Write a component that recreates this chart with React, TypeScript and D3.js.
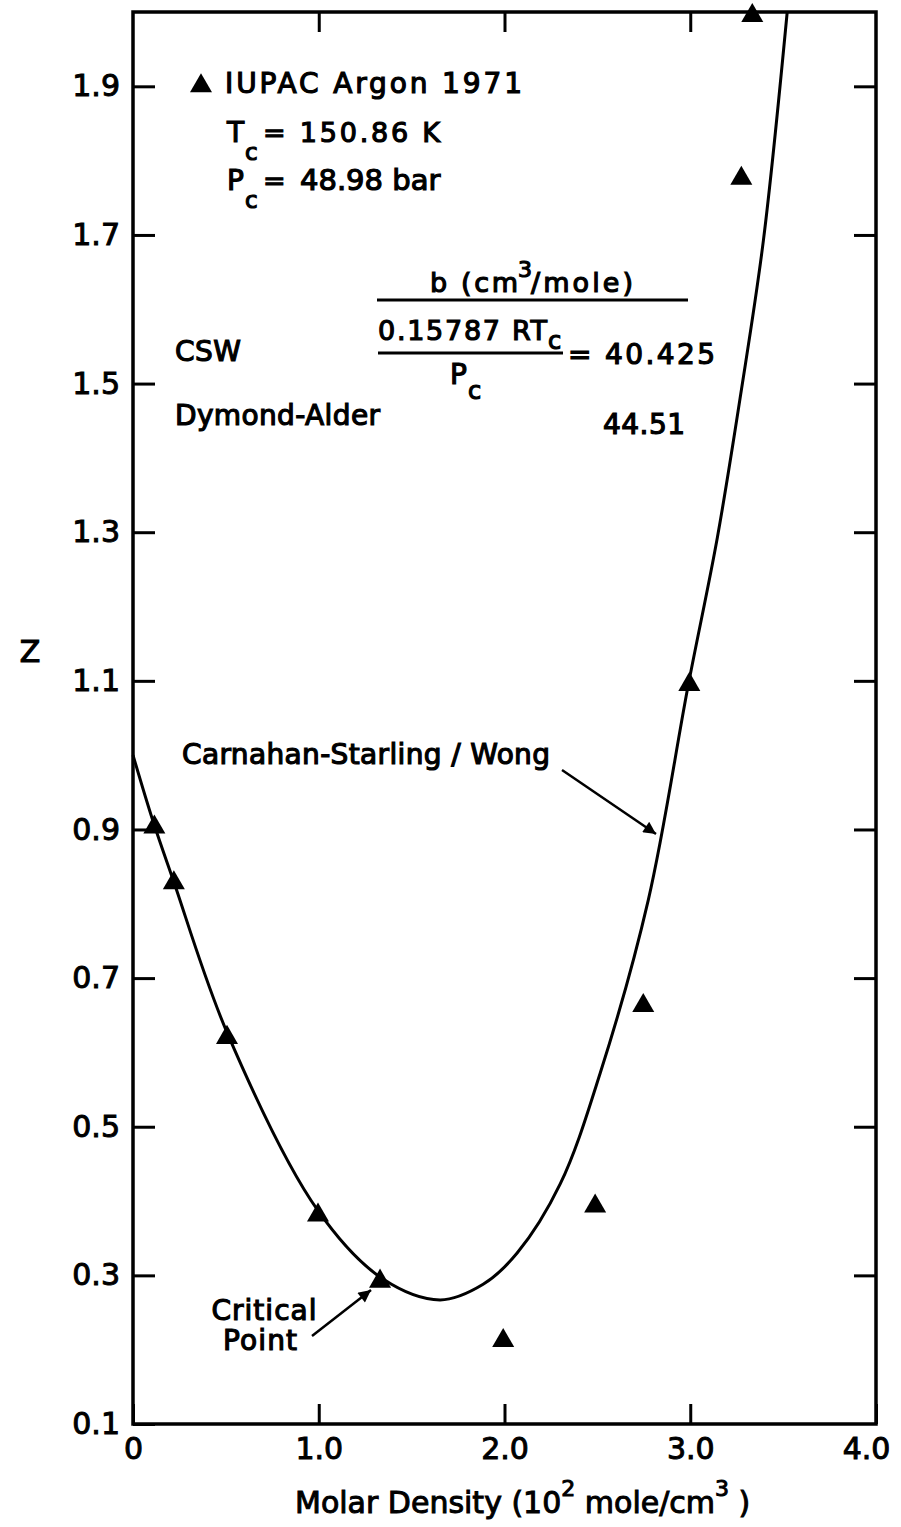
import React, { useEffect, useRef } from 'react'
import * as d3 from 'd3'

const W = 901
const H = 1527

// axis ticks
const xTickValues = [0, 1, 2, 3, 4]
const xTickLabels = ['0', '1.0', '2.0', '3.0', '4.0']
const yTickValues = [0.1, 0.3, 0.5, 0.7, 0.9, 1.1, 1.3, 1.5, 1.7, 1.9]
const yTickLabels = ['0.1', '0.3', '0.5', '0.7', '0.9', '1.1', '1.3', '1.5', '1.7', '1.9']

// IUPAC Argon 1971 (triangles)
const iupacDensity = [0.115, 0.22, 0.506, 0.996, 1.33, 1.993, 2.488, 2.747, 2.995, 3.275, 3.334]
const iupacZ = [0.903, 0.828, 0.62, 0.381, 0.292, 0.212, 0.393, 0.663, 1.095, 1.776, 1.995]

// Carnahan-Starling / Wong curve
const cswDensity = [0, 0.108, 0.215, 0.506, 0.996, 1.346, 1.653, 1.885, 2.068, 2.3, 2.515, 2.774, 2.989, 3.146, 3.275, 3.394, 3.522]
const cswZ = [1.0, 0.911, 0.833, 0.627, 0.387, 0.295, 0.267, 0.288, 0.33, 0.423, 0.572, 0.805, 1.094, 1.293, 1.491, 1.693, 2.0]

const FONT = '"DejaVu Sans", sans-serif'

export default function App() {
  const ref = useRef<SVGSVGElement>(null)

  useEffect(() => {
    const svg = d3.select(ref.current)
    svg.selectAll('*').remove()

    const x = d3.scaleLinear().domain([0, 4]).range([133, 876])
    const y = d3.scaleLinear().domain([0.1, 2.0]).range([1424, 12])

    svg.append('rect').attr('width', W).attr('height', H).attr('fill', '#fff')

    const defs = svg.append('defs')
    defs.append('marker')
      .attr('id', 'arrow')
      .attr('viewBox', '0 0 10 10')
      .attr('refX', 10).attr('refY', 5)
      .attr('markerWidth', 7).attr('markerHeight', 5)
      .attr('markerUnits', 'strokeWidth')
      .attr('orient', 'auto')
      .append('path').attr('d', 'M0,0L10,5L0,10z').attr('fill', '#000')

    // axes (ticks point inward)
    const styleAxis = (g: any) => {
      g.attr('font-family', FONT).attr('font-size', 30)
      g.select('.domain').remove()
      g.selectAll('.tick line').attr('stroke', '#000').attr('stroke-width', 3)
      g.selectAll('.tick text').attr('fill', '#000').attr('stroke', '#000').attr('stroke-width', 1)
    }

    svg.append('g')
      .attr('transform', 'translate(' + x(0) + ',0)')
      .call(d3.axisLeft(y).tickValues(yTickValues)
        .tickFormat((d, i) => yTickLabels[i]).tickSizeInner(-22).tickSizeOuter(0).tickPadding(13))
      .call(styleAxis)

    svg.append('g')
      .attr('transform', 'translate(' + x(4) + ',0)')
      .call(d3.axisRight(y).tickValues(yTickValues.slice(1))
        .tickFormat(() => '').tickSizeInner(-22).tickSizeOuter(0))
      .call(styleAxis)

    const bottom = svg.append('g')
      .attr('transform', 'translate(0,' + y(0.1) + ')')
      .call(d3.axisBottom(x).tickValues(xTickValues)
        .tickFormat((d, i) => xTickLabels[i]).tickSizeInner(-20).tickSizeOuter(0).tickPadding(14))
      .call(styleAxis)
    bottom.selectAll('.tick text').filter((d: any) => d === 4).attr('dx', -10)

    svg.append('g')
      .attr('transform', 'translate(0,' + y(2.0) + ')')
      .call(d3.axisTop(x).tickValues([1, 2, 3])
        .tickFormat(() => '').tickSizeInner(-20).tickSizeOuter(0))
      .call(styleAxis)

    // frame
    svg.append('rect')
      .attr('x', x(0)).attr('y', y(2.0))
      .attr('width', x(4) - x(0)).attr('height', y(0.1) - y(2.0))
      .attr('fill', 'none').attr('stroke', '#000').attr('stroke-width', 3.5)

    // CSW curve
    const line = d3.line<number>()
      .x((d, i) => x(cswDensity[i]))
      .y(d => y(d))
      .curve(d3.curveCatmullRom.alpha(0.5))
    svg.append('path')
      .datum(cswZ)
      .attr('d', line)
      .attr('fill', 'none').attr('stroke', '#000').attr('stroke-width', 3)

    // IUPAC points
    const tri = d3.symbol().type(d3.symbolTriangle).size(210)
    svg.selectAll('.pt')
      .data(iupacZ)
      .enter().append('path')
      .attr('class', 'pt')
      .attr('d', tri)
      .attr('transform', (d, i) => 'translate(' + x(iupacDensity[i]) + ',' + y(d) + ')')
      .attr('fill', '#000')

    // text helper
    const label = (tx: number, ty: number, s: string, size = 28, anchor = 'start', len?: number) => {
      const t = svg.append('text')
        .attr('x', tx).attr('y', ty)
        .attr('font-family', FONT).attr('font-size', size)
        .attr('text-anchor', anchor)
        .attr('fill', '#000').attr('stroke', '#000').attr('stroke-width', 1.2)
        .text(s)
      if (len) t.attr('textLength', len).attr('lengthAdjust', 'spacing')
      return t
    }

    // legend
    svg.append('path').attr('d', tri).attr('transform', 'translate(201,86)').attr('fill', '#000')
    label(225, 93, 'IUPAC Argon 1971', 28, 'start', 297)
    label(227, 142, 'T', 28)
    label(245, 160, 'c', 23)
    label(263, 142, '= 150.86 K', 27, 'start', 177)
    label(227, 190, 'P', 28)
    label(245, 208, 'c', 23)
    label(263, 190, '=', 27)
    label(300, 190, '48.98 bar', 29)

    label(175, 361, 'CSW', 28, 'start', 66)
    label(175, 425, 'Dymond-Alder', 28, 'start', 205)

    // b fraction
    label(430, 292, 'b  (cm', 27, 'start', 88)
    label(518, 277, '3', 22)
    label(531, 292, '/mole)', 27, 'start', 102)
    svg.append('line').attr('x1', 377).attr('x2', 688).attr('y1', 300).attr('y2', 300)
      .attr('stroke', '#000').attr('stroke-width', 3)
    label(378, 340, '0.15787 RT', 27, 'start', 169)
    label(548, 349, 'c', 24)
    svg.append('line').attr('x1', 378).attr('x2', 563).attr('y1', 353).attr('y2', 353)
      .attr('stroke', '#000').attr('stroke-width', 3)
    label(450, 384, 'P', 28)
    label(468, 399, 'c', 24)
    label(568, 364, '= 40.425', 28, 'start', 147)
    label(603, 434, '44.51', 28, 'start', 82)

    // curve label
    label(182, 764, 'Carnahan-Starling / Wong', 28, 'start', 368)
    svg.append('line').attr('x1', 562).attr('y1', 770).attr('x2', 656).attr('y2', 834)
      .attr('stroke', '#000').attr('stroke-width', 2.5).attr('marker-end', 'url(#arrow)')

    label(264, 1320, 'Critical', 28, 'middle', 105)
    label(260, 1350, 'Point', 28, 'middle', 74)
    svg.append('line').attr('x1', 312).attr('y1', 1336).attr('x2', 371).attr('y2', 1290)
      .attr('stroke', '#000').attr('stroke-width', 2.5).attr('marker-end', 'url(#arrow)')

    // axis titles
    label(30, 662, 'Z', 30, 'middle')
    const xt = svg.append('text')
      .attr('x', 295).attr('y', 1513)
      .attr('font-family', FONT).attr('font-size', 30)
      .attr('fill', '#000').attr('stroke', '#000').attr('stroke-width', 1)
    xt.append('tspan').text('Molar Density (10')
    xt.append('tspan').attr('dy', -17).attr('font-size', 22).text('2')
    xt.append('tspan').attr('dy', 17).text(' mole/cm')
    xt.append('tspan').attr('dy', -17).attr('font-size', 22).text('3')
    xt.append('tspan').attr('dy', 17).text(' )')
  }, [])

  return (
    <svg ref={ref} width={W} height={H} style={{ position: 'absolute', left: 0, top: 0 }}></svg>
  )
}
